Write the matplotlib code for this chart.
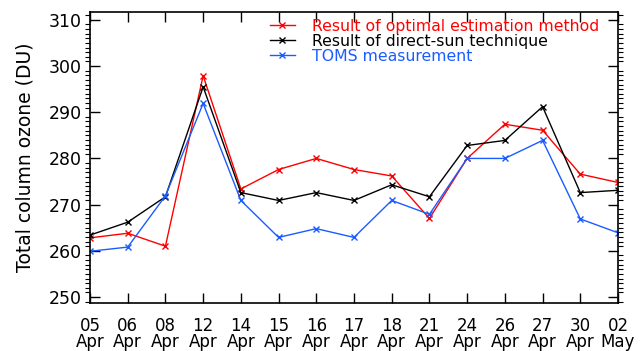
import matplotlib
matplotlib.use('Agg')
import matplotlib.pyplot as plt
from matplotlib.ticker import MultipleLocator

plt.rcParams['font.family'] = ['DejaVu Sans']

days = ['05', '06', '08', '12', '14', '15', '16', '17', '18', '21', '24', '26', '27', '30', '02']
months = ['Apr'] * 14 + ['May']
optimal = [262.8, 263.8, 261.0, 297.9, 273.4, 277.6, 280.0, 277.6, 276.2, 267.0, 280.0, 287.4, 286.1, 276.6, 274.8]
direct = [263.4, 266.2, 271.7, 295.5, 272.6, 270.9, 272.6, 270.9, 274.3, 271.7, 282.8, 283.9, 291.2, 272.6, 273.1]
toms = [259.9, 260.8, 271.9, 291.9, 270.9, 262.9, 264.8, 262.9, 270.9, 267.9, 280.0, 280.0, 283.9, 266.9, 263.9]

fig = plt.figure(figsize=(6.4, 3.51), dpi=100)
ax = fig.add_axes([90/640, 1 - 303/351, 528/640, 291/351])

x = range(len(days))
ax.plot(x, optimal, color='red', marker='x', ms=5, lw=1, label='Result of optimal estimation method')
ax.plot(x, direct, color='black', marker='x', ms=5, lw=1, label='Result of direct-sun technique')
ax.plot(x, toms, color='#1a5cff', marker='x', ms=5, lw=1, label='TOMS measurement')

ax.set_xlim(0, 14)
ax.set_ylim(248.7, 311.7)
ax.set_xticks(list(x))
ax.set_xticklabels([d + '\n' + m for d, m in zip(days, months)], fontsize=12, linespacing=0.9)
ax.yaxis.set_major_locator(MultipleLocator(10))
ax.yaxis.set_minor_locator(MultipleLocator(1))
ax.tick_params(axis='both', direction='in', top=True, right=True, labelsize=12.5)
ax.tick_params(axis='x', labelsize=12)
ax.tick_params(axis='both', which='major', length=7, width=1)
ax.tick_params(axis='y', which='minor', length=3.5, width=0.8, right=True)
ax.tick_params(axis='x', pad=10)
ax.tick_params(axis='y', pad=6)
ax.set_ylabel('Total column ozone (DU)', fontsize=13.5)
ax.yaxis.set_label_coords(-(90 - 35) / 528, 0.5)
for s in ax.spines.values():
    s.set_linewidth(1.2)

ax.legend(loc='upper left', frameon=False, labelcolor='linecolor', fontsize=11.3,
          handlelength=1.6, handletextpad=1.1, labelspacing=0.0,
          borderpad=0.25, borderaxespad=0, bbox_to_anchor=((266 - 90) / 528, 1 - 3 / 291))

fig.savefig('out.png', dpi=100)
